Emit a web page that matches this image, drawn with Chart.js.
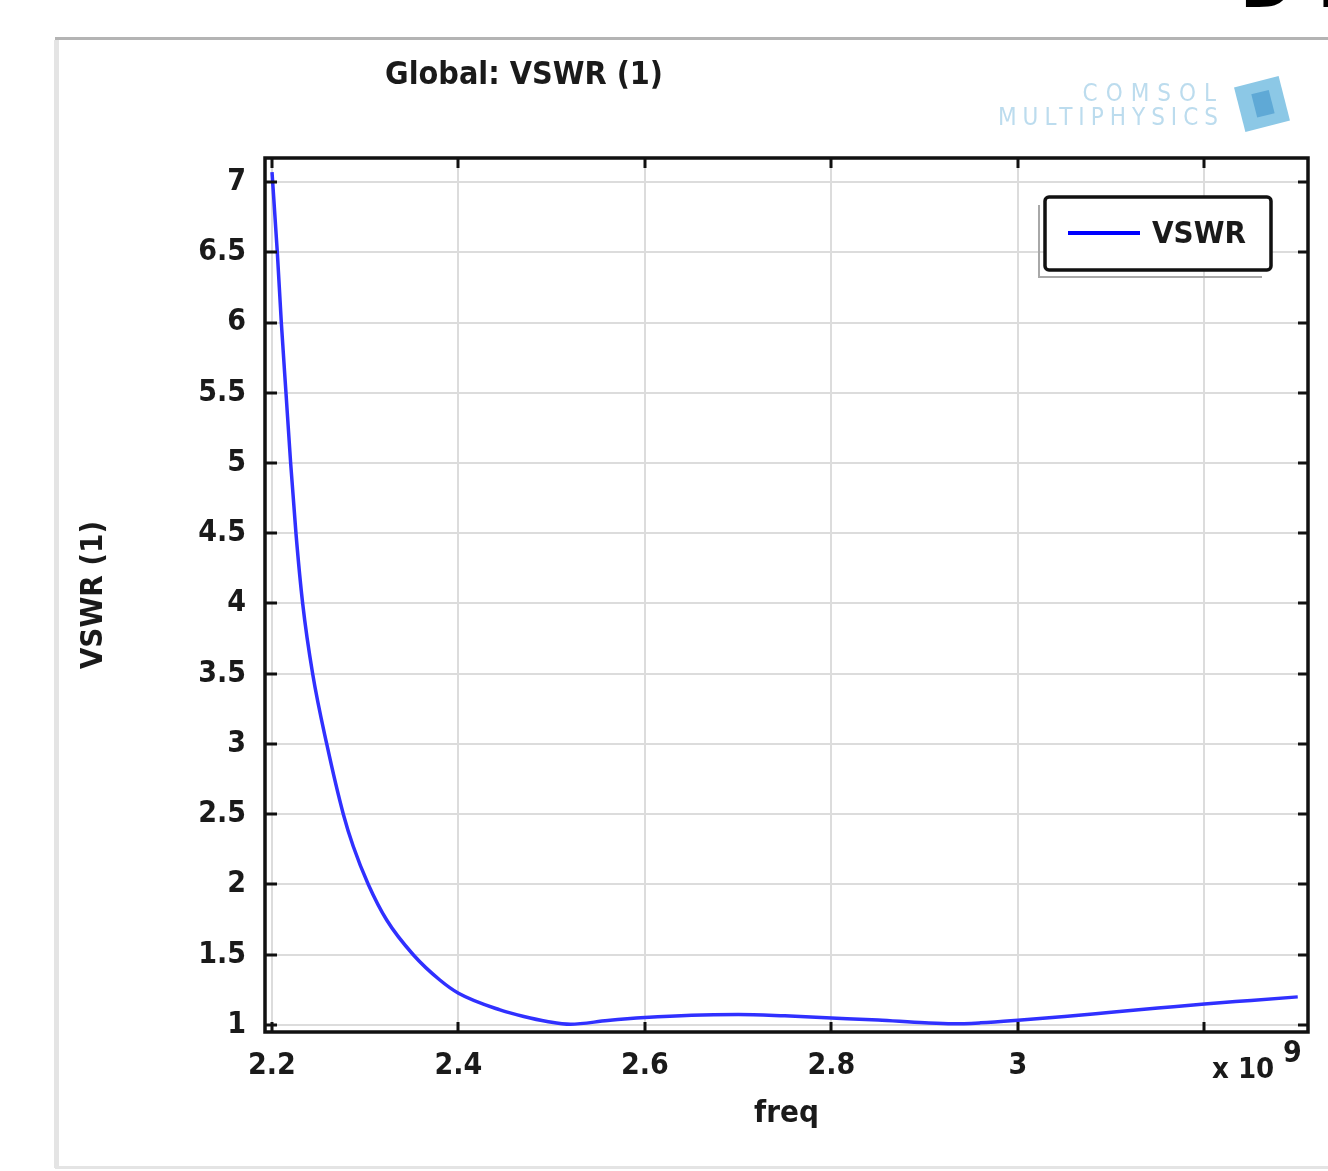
<!DOCTYPE html>
<html>
<head>
<meta charset="utf-8">
<script src="https://cdn.jsdelivr.net/npm/chart.js@4.4.1/dist/chart.umd.min.js"></script>
<style>
  html, body { margin: 0; padding: 0; background: #fff; }
  #wrap { width: 1328px; height: 1171px; }
</style>
</head>
<body>
<div id="wrap"><canvas id="vswrChart" width="1328" height="1171"></canvas></div>
<script>
// freq in units of 1e9 Hz (axis shows "x 10^9")
const freq = [2.200, 2.2057, 2.210, 2.215, 2.220, 2.2257, 2.2329, 2.2436, 2.2587, 2.2765, 2.2872, 2.3033,
              2.323, 2.3515, 2.380, 2.400, 2.4445, 2.470, 2.495, 2.520, 2.560, 2.600, 2.650, 2.700, 2.750,
              2.800, 2.850, 2.900, 2.930, 2.960, 3.000, 3.050, 3.100, 3.150, 3.200, 3.250, 3.300];
const vswr = [7.07, 6.50, 6.00, 5.50, 5.00, 4.50, 4.00, 3.50, 3.00, 2.50, 2.27, 2.00,
              1.747, 1.50, 1.32, 1.226, 1.107, 1.06, 1.025, 1.005, 1.032, 1.053, 1.07, 1.075, 1.065,
              1.05, 1.035, 1.015, 1.008, 1.015, 1.033, 1.06, 1.09, 1.12, 1.15, 1.175, 1.20];
const xTicks = [2.2, 2.4, 2.6, 2.8, 3.0, 3.2];
const yTicks = [1, 1.5, 2, 2.5, 3, 3.5, 4, 4.5, 5, 5.5, 6, 6.5, 7];
const plotTitle = 'Global: VSWR (1)';
const seriesName = 'VSWR';

const FONT = "'DejaVu Sans Condensed', 'DejaVu Sans', sans-serif";
const TXT = '#1a1a1a';
const LINE = '#3030ff';

const decor = {
  id: 'decor',
  beforeDraw(chart) {
    const c = chart.ctx;
    c.save();
    c.fillStyle = '#fff';
    c.fillRect(0, 0, chart.width, chart.height);
    // panel edges
    c.fillStyle = '#b4b4b4';
    c.fillRect(55, 37, chart.width - 55, 3);
    c.fillStyle = '#e4e4e4';
    c.fillRect(54, 40, 5, 1128);
    c.fillRect(55, 1166, chart.width - 55, 3);
    // cut-off heading at top right
    c.fillStyle = '#000';
    c.font = 'bold 72px ' + FONT;
    c.textBaseline = 'alphabetic';
    c.fillText('D', 1240, 7);
    c.fillText('i', 1318, 7);
    c.restore();
  },
  afterDraw(chart) {
    const c = chart.ctx;
    const a = chart.chartArea;
    const xs = chart.scales.x, ys = chart.scales.y;
    c.save();
    // title
    c.fillStyle = TXT;
    c.font = 'bold 32px ' + FONT;
    c.textBaseline = 'middle';
    c.textAlign = 'left';
    c.fillText(plotTitle, 385, 76);

    // COMSOL mark
    c.fillStyle = '#bcdcee';
    c.font = '24px ' + FONT;
    c.textAlign = 'right';
    c.textBaseline = 'alphabetic';
    c.letterSpacing = '8px';
    c.fillText('COMSOL', 1224, 101);
    c.letterSpacing = '6px';
    c.fillText('MULTIPHYSICS', 1224, 125);
    c.letterSpacing = '0px';
    c.translate(1262, 104);
    c.rotate(-0.25);
    c.fillStyle = '#8cc8e6';
    c.fillRect(-23, -23, 46, 46);
    c.fillStyle = '#5fa9d6';
    c.fillRect(-8, -12, 18, 24);
    c.setTransform(1, 0, 0, 1, 0, 0);

    // inward tick marks on all four sides
    c.strokeStyle = '#111';
    c.lineWidth = 3;
    c.beginPath();
    xTicks.forEach(v => {
      const px = Math.round(xs.getPixelForValue(v));
      c.moveTo(px, a.bottom); c.lineTo(px, a.bottom - 10);
      c.moveTo(px, a.top); c.lineTo(px, a.top + 10);
    });
    yTicks.forEach(v => {
      const py = Math.round(ys.getPixelForValue(v));
      c.moveTo(a.left, py); c.lineTo(a.left + 12, py);
      c.moveTo(a.right, py); c.lineTo(a.right - 10, py);
    });
    c.stroke();

    // frame
    c.lineWidth = 3.5;
    c.strokeStyle = '#111';
    c.strokeRect(a.left, a.top, a.right - a.left, a.bottom - a.top);

    // multiplier
    c.fillStyle = TXT;
    c.textAlign = 'left';
    c.textBaseline = 'alphabetic';
    c.font = 'bold 29px ' + FONT;
    c.fillText('x 10', 1212, 1078);
    c.font = 'bold 30px ' + FONT;
    c.fillText('9', 1283, 1062);

    // legend
    const lx = 1045, ly = 197, lw = 226, lh = 73;
    c.strokeStyle = '#a8a8a8';
    c.lineWidth = 2;
    c.beginPath();
    c.moveTo(1039, 205); c.lineTo(1039, 277); c.lineTo(1262, 277);
    c.stroke();
    c.fillStyle = '#fff';
    c.beginPath();
    c.roundRect(lx, ly, lw, lh, 4);
    c.fill();
    c.lineWidth = 3.5;
    c.strokeStyle = '#111';
    c.stroke();
    c.strokeStyle = '#0000ff';
    c.lineWidth = 4;
    c.beginPath();
    c.moveTo(1068, 233); c.lineTo(1140, 233);
    c.stroke();
    c.fillStyle = TXT;
    c.font = 'bold 31px ' + FONT;
    c.textBaseline = 'middle';
    c.fillText(seriesName, 1152, 235);
    c.restore();
  }
};

new Chart(document.getElementById('vswrChart'), {
  type: 'line',
  data: {
    datasets: [{
      label: seriesName,
      data: freq.map((f, i) => ({ x: f, y: vswr[i] })),
      borderColor: LINE,
      borderWidth: 3.5,
      pointRadius: 0,
      cubicInterpolationMode: 'monotone',
      fill: false
    }]
  },
  options: {
    responsive: false,
    animation: false,
    layout: { padding: { left: 55, top: 158, right: 20, bottom: 0 } },
    plugins: {
      legend: { display: false },
      title: { display: false },
      tooltip: { enabled: false }
    },
    scales: {
      x: {
        type: 'linear',
        min: 2.1925,
        max: 3.311,
        afterBuildTicks: (s) => { s.ticks = xTicks.map(v => ({ value: v })); },
        afterFit: (s) => { s.height = 139; },
        grid: { color: '#dcdcdc', lineWidth: 2, drawTicks: false },
        border: { display: false },
        ticks: {
          padding: 16,
          color: TXT,
          font: { family: FONT, size: 30, weight: 'bold' },
          callback: (v) => (Math.abs(v - 3.2) < 1e-6 ? '' : String(+v.toFixed(1)))
        },
        title: {
          display: true,
          text: 'freq',
          color: TXT,
          font: { family: FONT, size: 31, weight: 'bold' },
          padding: { top: 0, bottom: 38 }
        }
      },
      y: {
        type: 'linear',
        min: 0.950,
        max: 7.171,
        afterBuildTicks: (s) => { s.ticks = yTicks.map(v => ({ value: v })); },
        afterFit: (s) => { s.width = 210; },
        grid: { color: '#dcdcdc', lineWidth: 2, drawTicks: false },
        border: { display: false },
        ticks: {
          padding: 19,
          color: TXT,
          font: { family: FONT, size: 30, weight: 'bold' },
          callback: (v) => String(v)
        },
        title: {
          display: true,
          text: 'VSWR (1)',
          color: TXT,
          font: { family: FONT, size: 31, weight: 'bold' },
          padding: { top: 20, bottom: 0 }
        }
      }
    }
  },
  plugins: [decor]
});
</script>
</body>
</html>
